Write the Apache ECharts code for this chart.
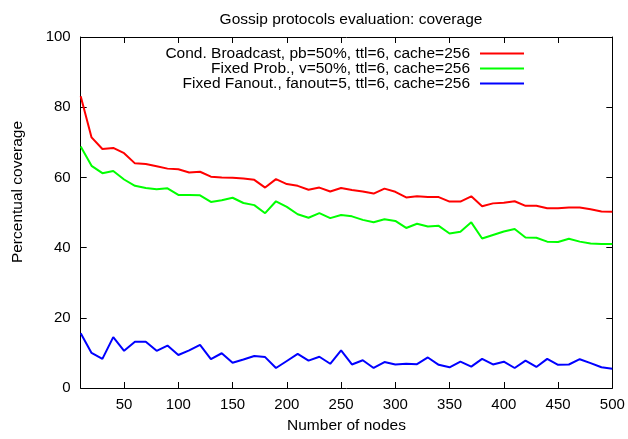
<!DOCTYPE html>
<html><head><meta charset="utf-8">
<script src="https://cdn.jsdelivr.net/npm/echarts@6/dist/echarts.min.js"></script>
<style>html,body{margin:0;padding:0;background:#fff}#c{width:628px;height:439px}</style>
</head><body><div id="c"></div>
<script>
const nodes = [10,20,30,40,50,60,70,80,90,100,110,120,130,140,150,160,170,180,190,200,210,220,230,240,250,260,270,280,290,300,310,320,330,340,350,360,370,380,390,400,410,420,430,440,450,460,470,480,490,500];
const condBroadcast = [83.1,71.4,68.1,68.4,66.9,64.0,63.8,63.2,62.5,62.3,61.4,61.6,60.2,60.0,59.9,59.7,59.3,57.1,59.5,58.1,57.6,56.5,57.1,56.0,57.0,56.4,56.0,55.4,56.8,55.9,54.3,54.6,54.4,54.4,53.1,53.1,54.6,51.8,52.6,52.8,53.2,51.9,51.9,51.2,51.2,51.4,51.4,50.9,50.3,50.2];
const fixedProb = [68.8,63.3,61.2,61.8,59.4,57.6,57.0,56.6,56.9,55.0,55.0,54.9,53.0,53.5,54.2,52.7,52.1,49.8,53.2,51.6,49.5,48.5,49.8,48.4,49.3,48.9,47.9,47.2,48.1,47.6,45.6,46.8,46.0,46.2,44.0,44.5,47.2,42.6,43.6,44.6,45.3,42.9,42.8,41.7,41.6,42.5,41.7,41.2,41.0,41.0];
const fixedFanout = [15.6,10.0,8.3,14.5,10.6,13.2,13.2,10.6,12.1,9.4,10.7,12.3,8.2,9.9,7.2,8.1,9.1,8.8,5.7,7.7,9.7,7.8,8.9,6.9,10.7,6.7,7.9,5.7,7.4,6.7,6.9,6.8,8.7,6.6,5.9,7.5,6.1,8.3,6.7,7.5,5.7,7.8,6.0,8.3,6.6,6.7,8.2,7.1,5.9,5.5];
const xTicks = [50,100,150,200,250,300,350,400,450,500];
const seriesNames = ['Cond. Broadcast, pb=50%, ttl=6, cache=256','Fixed Prob., v=50%, ttl=6, cache=256','Fixed Fanout., fanout=5, ttl=6, cache=256'];
const seriesColors = ['#ff0000','#00ff00','#0000ff'];
const seriesValues = [condBroadcast, fixedProb, fixedFanout];

const FONT = '"Liberation Sans", Arial, Helvetica, sans-serif';
const TXT = 15.5;
const chart = echarts.init(document.getElementById('c'), null, {renderer:'canvas'});
const axLine = {show:true, onZero:false, lineStyle:{color:'#000', width:1}};
const tick = {show:true, inside:true, length:6, lineStyle:{color:'#000', width:1}};
const lbl = {color:'#000', fontSize:15, fontFamily:FONT};
chart.setOption({
  animation:false,
  backgroundColor:'#fff',
  title:{text:'Gossip protocols evaluation: coverage', left:346, top:7, textAlign:'center',
    textStyle:{fontSize:TXT, fontWeight:'normal', color:'#000', fontFamily:FONT}},
  grid:{left:80.7, right:15.7, top:37, bottom:48.7, containLabel:false},
  legend:{orient:'vertical', align:'right', right:104, top:45.5, padding:0, itemGap:-1,
    itemWidth:44, itemHeight:14,
    textStyle:{fontSize:TXT, color:'#000', fontFamily:FONT, lineHeight:14, padding:[0,5,0,0]},
    data:seriesNames.map((n,i)=>({name:n, icon:'path://M0,6.5L44,6.5L44,8.5L0,8.5Z', itemStyle:{color:seriesColors[i]}}))},
  graphic:[{type:'text', x:18, y:192, rotation:Math.PI/2,
    style:{text:'Percentual coverage', fontSize:TXT, fontFamily:FONT, fill:'#000', align:'center', verticalAlign:'middle'}}],
  xAxis:[
    {type:'value', min:10, max:500, position:'bottom',
     name:'Number of nodes', nameLocation:'middle', nameGap:30,
     nameTextStyle:{fontSize:TXT, color:'#000', fontFamily:FONT},
     axisLine:axLine, axisTick:Object.assign({customValues:xTicks}, tick),
     axisLabel:Object.assign({customValues:xTicks, margin:9}, lbl), splitLine:{show:false}},
    {type:'value', min:10, max:500, position:'top',
     axisLine:axLine, axisTick:Object.assign({customValues:xTicks}, tick),
     axisLabel:{show:false}, splitLine:{show:false}}
  ],
  yAxis:[
    {type:'value', min:0, max:100, interval:20, position:'left',
     axisLine:axLine, axisTick:tick, axisLabel:Object.assign({margin:10}, lbl), splitLine:{show:false}},
    {type:'value', min:0, max:100, interval:20, position:'right',
     axisLine:axLine, axisTick:tick, axisLabel:{show:false}, splitLine:{show:false}}
  ],
  series:seriesValues.map((vals,i)=>({
    name:seriesNames[i], type:'line', symbol:'none', xAxisIndex:0, yAxisIndex:0,
    data:nodes.map((n,j)=>[n, vals[j]]),
    lineStyle:{color:seriesColors[i], width:2}, itemStyle:{color:seriesColors[i]}
  }))
});
</script></body></html>
